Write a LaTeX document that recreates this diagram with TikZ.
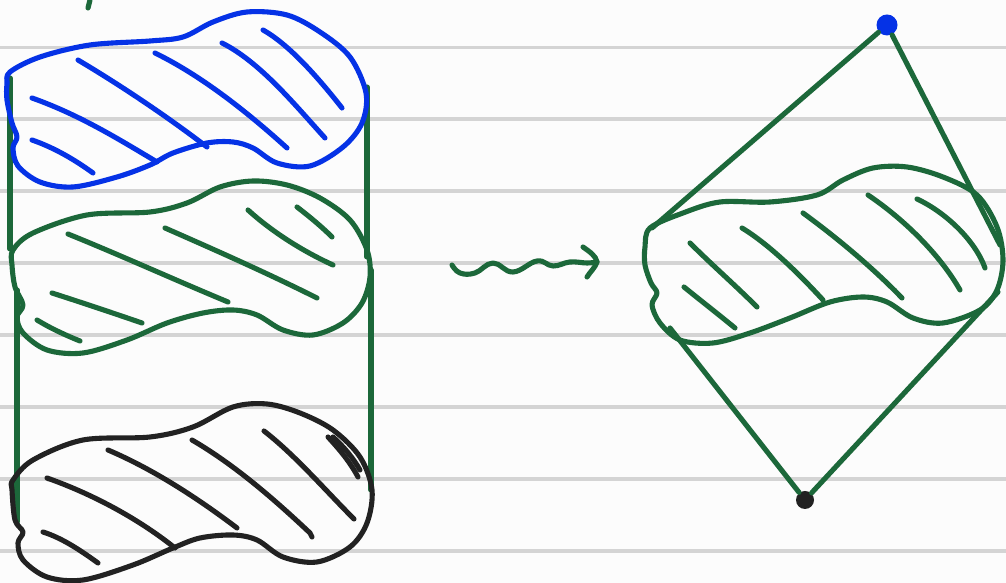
\documentclass[tikz,border=0pt]{standalone}
\usetikzlibrary{calc}
\definecolor{inkblue}{RGB}{5,50,230}
\definecolor{inkgreen}{RGB}{28,104,58}
\definecolor{inkblack}{RGB}{34,34,34}
\definecolor{rulegray}{RGB}{212,212,212}
\definecolor{paper}{RGB}{252,252,252}
\tikzset{
  pen/.style={line width=1.45pt, line cap=round, line join=round},
  ruleline/.style={draw=rulegray, line width=0.9pt},
  hatch/.style={pen},
  dotnode/.style={circle, inner sep=0pt, minimum size=0.21cm},
}
\begin{document}
\begin{tikzpicture}[x=0.01cm,y=-0.01cm]
\fill[paper] (0,0) rectangle (1006,583);
\useasboundingbox (0,0) rectangle (1006,583);
% ruled lines
\foreach \yy in {47.5,119,191,263,335,407,479,551} \draw[ruleline] (0,\yy) -- (1006,\yy);
% small tick
\draw[pen, inkgreen] (90,0) -- (88,8);
% vertical connectors, left column
\coordinate (l1a) at (10,78); \coordinate (l1b) at (10,249);
\coordinate (r1a) at (367,87); \coordinate (r1b) at (367,257);
\coordinate (l2a) at (17,290); \coordinate (l2b) at (17,522);
\coordinate (r2a) at (371,270); \coordinate (r2b) at (371,490);
\draw[pen, inkgreen] (l1a) -- (l1b);
\draw[pen, inkgreen] (r1a) -- (r1b);
\draw[pen, inkgreen] (l2a) -- (l2b);
\draw[pen, inkgreen] (r2a) -- (r2b);
% blue blob
\draw[pen, inkblue] plot[smooth cycle, tension=0.55] coordinates {(10,72) (40,57) (90,45) (150,41) (183,37) (213,22) (247,12) (287,15) (320,32) (350,57) (366,93) (362,123) (343,147) (310,166) (277,163) (253,148) (233,142) (207,143) (173,153) (150,165) (117,177) (73,187) (40,182) (18,166) (13,148) (17,137) (12,123) (7,100) (7,84)};
\begin{scope}[inkblue]
\draw[hatch] (32,98) .. controls (80,115) and (120,140) .. (157,162);
\draw[hatch] (32,140) .. controls (55,148) and (75,160) .. (93,173);
\draw[hatch] (78,60) .. controls (120,85) and (165,115) .. (207,147);
\draw[hatch] (155,53) .. controls (200,75) and (245,110) .. (287,148);
\draw[hatch] (222,43) .. controls (260,62) and (295,105) .. (325,138);
\draw[hatch] (263,30) .. controls (290,45) and (320,80) .. (342,108);
\end{scope}
% green blob (middle)
\draw[pen, inkgreen] plot[smooth cycle, tension=0.55] coordinates {(13,250) (33,233) (87,215) (150,212) (187,203) (220,187) (253,181) (287,185) (320,198) (350,220) (367,250) (370,277) (362,303) (343,323) (313,335) (283,330) (257,315) (233,310) (203,313) (167,323) (127,340) (83,353) (47,350) (23,333) (17,317) (23,305) (15,287) (12,265)};
\begin{scope}[inkgreen]
\draw[hatch] (68,234) .. controls (120,255) and (175,280) .. (228,302);
\draw[hatch] (52,293) .. controls (80,302) and (110,312) .. (142,323);
\draw[hatch] (37,320) .. controls (50,328) and (65,335) .. (80,341);
\draw[hatch] (165,228) .. controls (215,250) and (265,272) .. (317,298);
\draw[hatch] (248,210) .. controls (270,230) and (300,250) .. (333,265);
\draw[hatch] (297,207) .. controls (310,217) and (322,227) .. (332,237);
\end{scope}
% black blob
\draw[pen, inkblack] plot[smooth cycle, tension=0.55] coordinates {(13,480) (33,460) (83,440) (150,437) (193,427) (233,407) (267,404) (300,413) (333,430) (360,457) (372,490) (367,523) (350,547) (317,562) (283,557) (257,540) (233,535) (200,538) (173,548) (133,565) (83,580) (47,577) (23,560) (18,543) (23,532) (15,520) (12,490)};
\begin{scope}[inkblack]
\draw[hatch] (49,479) -- (47,478) .. controls (95,495) and (140,520) .. (175,548);
\draw[hatch] (43,532) .. controls (62,538) and (80,550) .. (98,563);
\draw[hatch] (108,450) .. controls (155,470) and (200,500) .. (237,528);
\draw[hatch] (192,440) .. controls (235,465) and (275,500) .. (310,533) -- (312,537);
\draw[hatch] (264,431) .. controls (295,455) and (325,490) .. (354,519);
\draw[hatch] (328,437) .. controls (340,450) and (350,462) .. (358,477);
\draw[hatch] (333,437) .. controls (345,448) and (353,458) .. (360,470);
\end{scope}
% squiggle arrow
\coordinate (sqa) at (452,265);
\coordinate (sqb) at (597,262);
\draw[pen, inkgreen] plot[smooth, tension=0.7] coordinates {(sqa) (460,273) (475,273) (493,263) (513,272) (537,261) (553,266) (570,262) (587,263) (sqb)};
\draw[pen, inkgreen] (583,247) .. controls (590,252) and (596,256) .. (sqb) .. controls (595,268) and (590,272) .. (587,277);
% right diagram
\node[dotnode, fill=inkblue] (top) at (887,25) {};
\node[dotnode, fill=inkblack, minimum size=0.18cm] (bot) at (805,500) {};
\coordinate (bl) at (652,228);
\coordinate (br) at (1000,245);
\coordinate (cl) at (670,328);
\coordinate (cr) at (998,292);
\draw[pen, inkgreen] (top) -- (bl);
\draw[pen, inkgreen] (top) -- (br);
\draw[pen, inkgreen] (cl) -- (bot);
\draw[pen, inkgreen] (bot) -- (cr);
\draw[pen, inkgreen] plot[smooth cycle, tension=0.55] coordinates {(650,228) (683,213) (720,202) (770,202) (817,195) (843,180) (873,168) (907,167) (943,177) (977,195) (997,227) (1003,260) (997,290) (980,310) (943,323) (913,318) (887,302) (863,297) (830,302) (790,318) (750,333) (713,343) (680,340) (660,323) (652,305) (657,293) (651,283) (645,265) (645,247)};
\begin{scope}[inkgreen]
\draw[hatch] (690,243) .. controls (712,265) and (735,285) .. (757,307);
\draw[hatch] (684,287) .. controls (700,300) and (718,314) .. (735,328);
\draw[hatch] (742,228) .. controls (770,245) and (800,275) .. (823,300);
\draw[hatch] (803,213) .. controls (840,240) and (875,270) .. (902,298);
\draw[hatch] (868,195) .. controls (905,220) and (940,255) .. (960,290);
\draw[hatch] (917,199) .. controls (945,212) and (975,240) .. (985,268);
\end{scope}
\end{tikzpicture}
\end{document}
